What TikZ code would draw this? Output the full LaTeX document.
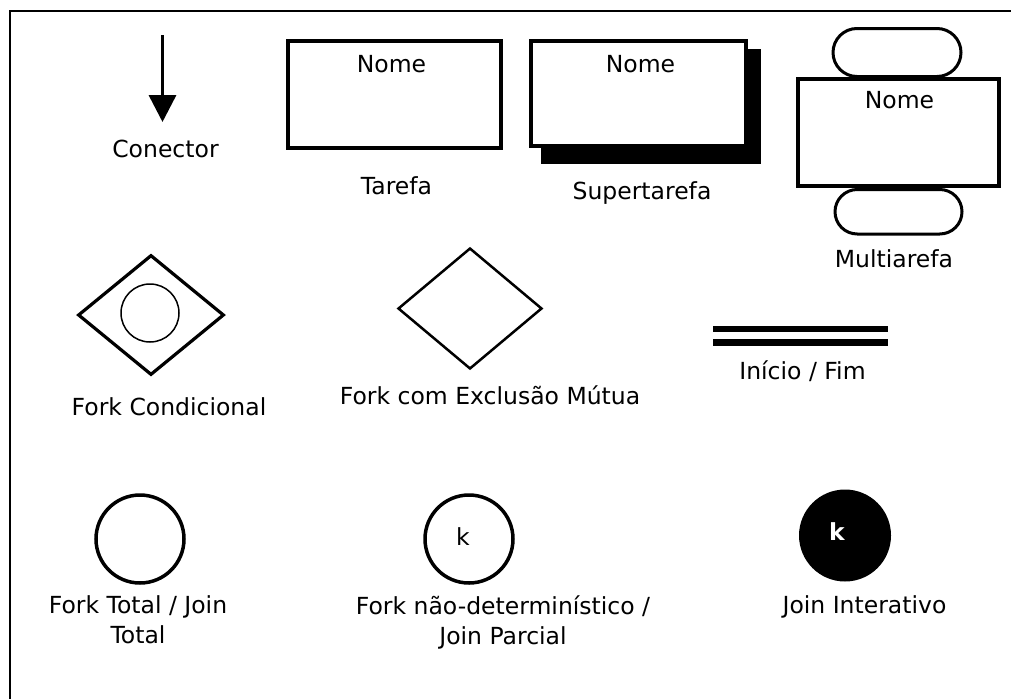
\documentclass[tikz,border=0pt]{standalone}
\usepackage{fontspec}
\setmainfont{DejaVu Sans}
\usetikzlibrary{arrows.meta,shapes.geometric,shapes.misc}

\tikzset{
  lbl/.style={font=\fontsize{23.5}{30}\selectfont, inner sep=0pt, anchor=base},
  mlbl/.style={lbl, align=center},
  taskbox/.style={draw, line width=4pt, fill=white, rectangle, inner sep=0pt},
  pill/.style={draw, line width=3pt, rounded rectangle, inner sep=0pt},
  forkdiamond/.style={draw, diamond, inner sep=0pt},
  joincircle/.style={draw, circle, line width=3.5pt, inner sep=0pt, minimum size=88pt},
  conn/.style={line width=3.5pt, -{Triangle[length=27pt,width=27pt]}},
  bar/.style={line width=6.5pt}
}

\begin{document}
\begin{tikzpicture}[x=1pt,y=-1pt]
  \useasboundingbox (0,0) rectangle (1011,699);

  % frame along the top and left sides
  \draw[line width=2.5pt] (10,699) -- (10,11) -- (1011,11);

  % connector
  \coordinate (arrowtop) at (162.5,35);
  \coordinate (arrowtip) at (162.5,122);
  \draw[conn] (arrowtop) -- (arrowtip);
  \node[lbl] (conector) at (165.5,157) {Conector};

  % task
  \node[taskbox, minimum width=213pt, minimum height=107pt] (tarefa) at (394.5,94) {};
  \node[lbl] (tarefanome) at (391.5,72) {Nome};
  \node[lbl] (tarefalbl) at (396.5,194) {Tarefa};

  % supertask with its drop shadow
  \fill (541,49) rectangle (761,164);
  \node[taskbox, minimum width=215pt, minimum height=105pt] (super) at (638.5,93.5) {};
  \node[lbl] (supernome) at (640.5,72) {Nome};
  \node[lbl] (superlbl) at (642,199) {Supertarefa};

  % multitask: box between two rounded caps
  \node[pill, minimum width=128pt, minimum height=48pt] (capup) at (897,52.5) {};
  \node[pill, minimum width=127pt, minimum height=44.5pt] (capdown) at (898.5,211.75) {};
  \node[taskbox, minimum width=201pt, minimum height=107pt] (multi) at (898.5,132.5) {};
  \node[lbl] (multinome) at (899.5,108) {Nome};
  \node[lbl] (multilbl) at (894,267) {Multiarefa};

  % conditional fork
  \node[forkdiamond, line width=3.2pt, minimum width=146pt, minimum height=120pt] (fcond) at (151,315) {};
  \node[draw, circle, line width=1.5pt, inner sep=0pt, minimum size=58pt] (fcondc) at (150,313) {};
  \node[lbl] (fcondlbl) at (169,415) {Fork Condicional};

  % fork with mutual exclusion
  \node[forkdiamond, line width=2.5pt, minimum width=144pt, minimum height=121pt] (fexcl) at (470,308.5) {};
  \node[lbl] (fexcllbl) at (490,404) {Fork com Exclusão Mútua};

  % start / end bars
  \draw[bar] (713,329) -- (888,329);
  \draw[bar] (713,342.5) -- (888,342.5);
  \node[lbl] (inilbl) at (802.5,379) {Início / Fim};

  % total fork / join
  \node[joincircle] (ftotal) at (140,539) {};
  \node[mlbl] (ftotallbl) at (138,643) {Fork Total / Join\\Total};

  % non-deterministic fork / partial join
  \node[joincircle] (fnd) at (469,539) {};
  \node[lbl] (fndk) at (463,545) {k};
  \node[mlbl] (fndlbl) at (503,644) {Fork não-determinístico /\\Join Parcial};

  % iterative join
  \node[circle, fill=black, inner sep=0pt, minimum size=92pt] (jint) at (845,535.5) {};
  \node[lbl, text=white, font=\fontsize{23.5}{30}\selectfont\bfseries] (jintk) at (837,540) {k};
  \node[lbl] (jintlbl) at (864.5,613) {Join Interativo};
\end{tikzpicture}
\end{document}
